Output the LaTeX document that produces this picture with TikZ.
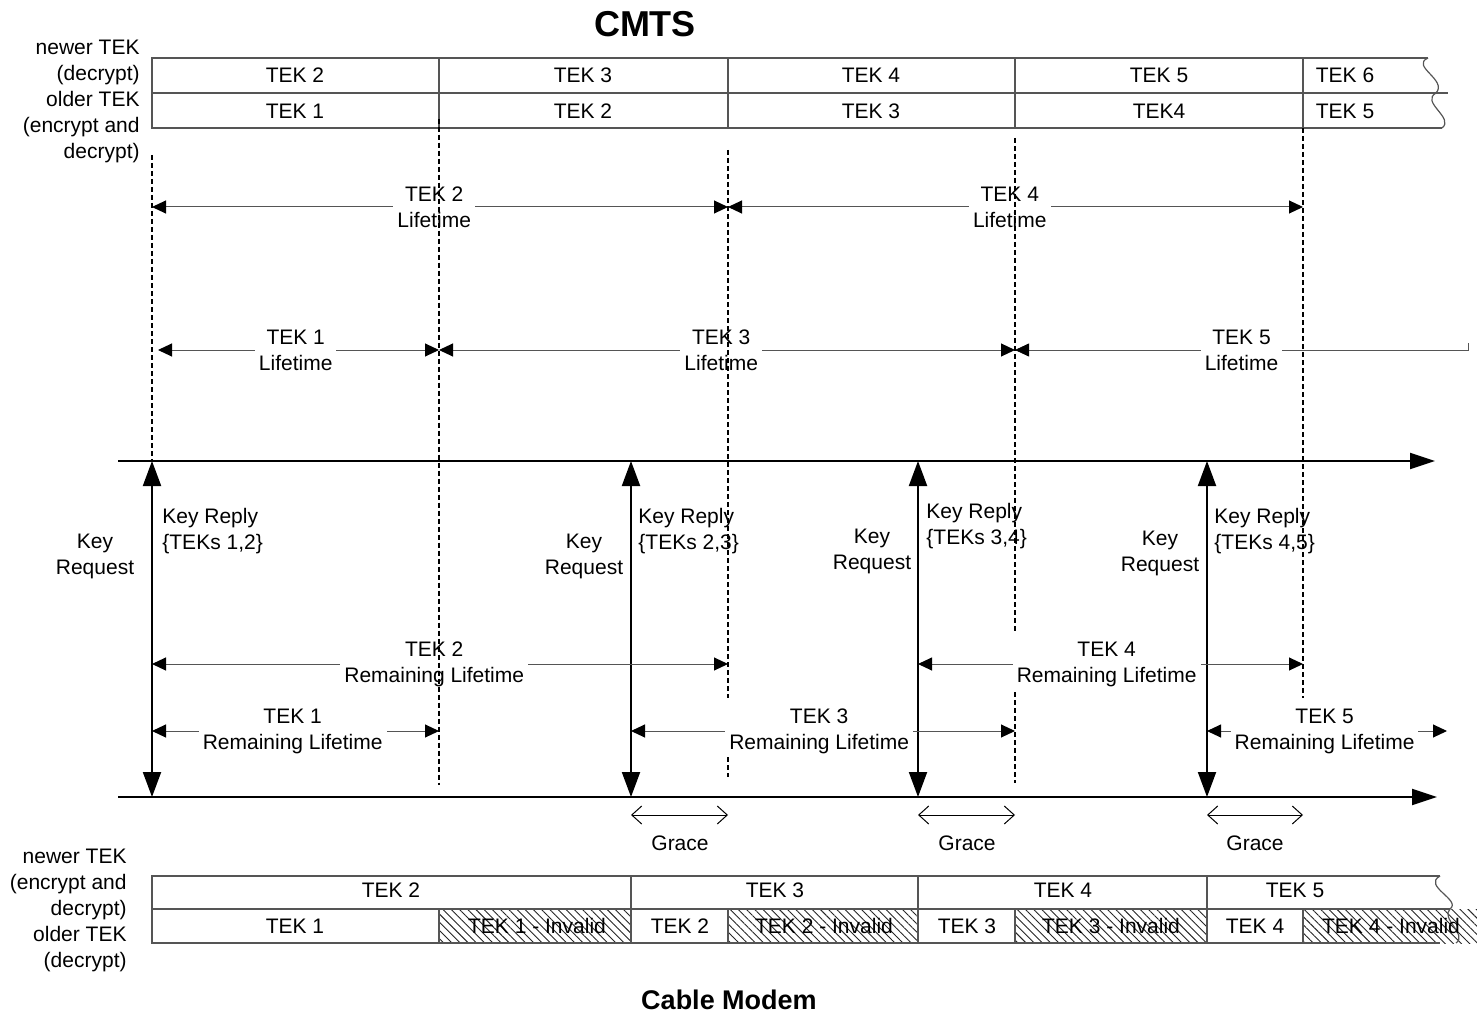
\documentclass[tikz,border=0pt]{standalone}
\usepackage{fontspec}
\setmainfont{Liberation Sans}
\usetikzlibrary{arrows.meta,patterns.meta}
\definecolor{linegray}{RGB}{85,85,85}

\begin{document}
\begin{tikzpicture}[x=0.5pt,y=-0.5pt,
  txt/.style={font=\fontsize{10.5}{13}\selectfont,align=center,inner sep=0pt},
  lbl/.style={txt,fill=white,inner sep=2pt,pos=0.49},
  boxline/.style={draw=linegray,line width=0.6pt},
  span/.style={draw=linegray,line width=0.5pt,{Triangle[black,length=7pt,width=6.5pt]}-{Triangle[black,length=7pt,width=6.5pt]}},
  guide/.style={line width=0.8pt,dash pattern=on 2.5pt off 1.5pt},
  timeaxis/.style={line width=1pt,-{Triangle[length=12.5pt,width=8pt]}},
  keyarr/.style={line width=1pt,{Triangle[length=12.5pt,width=9pt]}-{Triangle[length=12.5pt,width=9pt]}},
  grace/.style={line width=0.5pt,{Straight Barb[length=5pt,width=9pt]}-{Straight Barb[length=5pt,width=9pt]}},
  hatch/.style={pattern={Lines[angle=-45,distance=2.9pt,line width=0.45pt]},pattern color=black!85}]
\useasboundingbox (0,0) rectangle (1477,1016);

% time marks and rows
\coordinate (t0) at (152,0);
\coordinate (t1) at (439,0);
\coordinate (t2) at (728,0);
\coordinate (t3) at (1015,0);
\coordinate (t4) at (1303,0);
\coordinate (k2) at (631,0);
\coordinate (k3) at (918,0);
\coordinate (k4) at (1207,0);
\coordinate (r1) at (0,207);
\coordinate (r2) at (0,350);
\coordinate (r3) at (0,664);
\coordinate (r4) at (0,731);
\coordinate (gr) at (0,815);

\node[font=\bfseries\fontsize{18}{20}\selectfont] (cmts) at (645,24) {CMTS};
\node[font=\bfseries\fontsize{13.5}{16}\selectfont] (cm) at (729,1000) {Cable Modem};

% CMTS key table
\draw[boxline] (1428,58) -- (152,58) -- (152,128) -- (1442,128);
\draw[boxline] (152,93) -- (1448,93);
\draw[boxline,line width=1pt] (1248,93) -- (1303,93);
\foreach \x in {439,728,1015,1303}
  \draw[boxline] (\x,58) -- (\x,128);
\draw[boxline] (1428,58) .. controls (1410,66) and (1448,80) .. (1436,93)
  .. controls (1420,102) and (1455,118) .. (1442,128);
\foreach \x/\t [count=\i] in {295/TEK 2,583/TEK 3,871/TEK 4,1159/TEK 5,1345/TEK 6}
  \node[txt] (cnew\i) at (\x,75) {\t};
\foreach \x/\t [count=\i] in {295/TEK 1,583/TEK 2,871/TEK 3,1159/TEK4,1345/TEK 5}
  \node[txt] (cold\i) at (\x,111) {\t};
\node[txt,align=right,anchor=east] (cmtskeys) at (140,101)
  {newer TEK\\(decrypt)\\older TEK\\(encrypt and\\decrypt)};

% lifetimes
\draw[span] (t0 |- r1) -- node[lbl] (life2) {TEK 2\\Lifetime} (t2 |- r1);
\draw[span] (t2 |- r1) -- node[lbl] (life4) {TEK 4\\Lifetime} (t4 |- r1);
\draw[span] (158,350) -- node[lbl] (life1) {TEK 1\\Lifetime} (t1 |- r2);
\draw[span] (t1 |- r2) -- node[lbl] (life3) {TEK 3\\Lifetime} (t3 |- r2);
\draw[span,-] (t3 |- r2) -- node[lbl,pos=0.5] (life5) {TEK 5\\Lifetime} (1468,350) -- (1468,343);
\draw[black,{Triangle[length=7pt,width=6.5pt]}-] (t3 |- r2) -- +(8,0);

% time lines
\coordinate (cmtsL) at (118,461);
\coordinate (cmtsR) at (1435,461);
\coordinate (cmL) at (118,797);
\coordinate (cmR) at (1437,797);
\draw[timeaxis] (cmtsL) -- (cmtsR);
\draw[timeaxis] (cmL) -- (cmR);

% key exchanges
\draw[keyarr] (t0 |- cmL) -- (t0 |- cmtsL);
\draw[keyarr] (k2 |- cmL) -- (k2 |- cmtsL);
\draw[keyarr] (k3 |- cmL) -- (k3 |- cmtsL);
\draw[keyarr] (k4 |- cmL) -- (k4 |- cmtsL);
\node[txt] (req1) at (95,556) {Key\\Request};
\node[txt] (req2) at (584,556) {Key\\Request};
\node[txt] (req3) at (872,551) {Key\\Request};
\node[txt] (req4) at (1160,553) {Key\\Request};
\node[txt,align=left,anchor=west] (rep1) at (162,531) {Key Reply\\\{TEKs 1,2\}};
\node[txt,align=left,anchor=west] (rep2) at (638,531) {Key Reply\\\{TEKs 2,3\}};
\node[txt,align=left,anchor=west] (rep3) at (926,526) {Key Reply\\\{TEKs 3,4\}};
\node[txt,align=left,anchor=west] (rep4) at (1214,531) {Key Reply\\\{TEKs 4,5\}};

% remaining lifetimes
\draw[span] (t0 |- r3) -- node[lbl] (rem2) {TEK 2\\Remaining Lifetime} (t2 |- r3);
\draw[span] (t0 |- r4) -- node[lbl] (rem1) {TEK 1\\Remaining Lifetime} (t1 |- r4);
\draw[span] (k2 |- r4) -- node[lbl] (rem3) {TEK 3\\Remaining Lifetime} (t3 |- r4);
\draw[span] (k3 |- r3) -- node[lbl] (rem4) {TEK 4\\Remaining Lifetime} (t4 |- r3);
\draw[span] (k4 |- r4) -- node[lbl] (rem5) {TEK 5\\Remaining Lifetime} (1447,731);

% key lifetime boundaries
\draw[guide] (152,155) -- (t0 |- cmtsL);
\draw[guide] (t1 |- cold1.south) -- (439,785);
\draw[guide] (728,150) -- (728,698);
\draw[guide] (728,757) -- (728,777);
\draw[guide] (1015,138) -- (1015,633);
\draw[guide] (1015,692) -- (1015,783);
\draw[guide] (1303,128) -- (1303,698);

% grace periods
\draw[grace] (k2 |- gr) -- (t2 |- gr);
\draw[grace] (k3 |- gr) -- (t3 |- gr);
\draw[grace] (k4 |- gr) -- (t4 |- gr);
\node[txt] (grace2) at (680,843) {Grace};
\node[txt] (grace3) at (967,843) {Grace};
\node[txt] (grace4) at (1255,843) {Grace};

% cable modem key table
\fill[hatch] (439,909) rectangle (631,943);
\fill[hatch] (728,909) rectangle (918,943);
\fill[hatch] (1015,909) rectangle (1207,943);
\fill[hatch] (1303,909) rectangle (1477,943);
\draw[boxline] (1440,876) -- (152,876) -- (152,943) -- (1440,943);
\draw[boxline] (152,909) -- (1450,909);
\foreach \x in {631,918,1207}
  \draw[boxline] (\x,876) -- (\x,909);
\foreach \x in {439,631,728,918,1015,1207,1303}
  \draw[boxline] (\x,909) -- (\x,943);
\draw[boxline] (1440,876) .. controls (1422,886) and (1462,900) .. (1450,909)
  .. controls (1440,918) and (1468,935) .. (1456,943);
\foreach \x/\t [count=\i] in {391/TEK 2,775/TEK 3,1063/TEK 4,1295/TEK 5}
  \node[txt] (mnew\i) at (\x,890) {\t};
\foreach \x/\t [count=\i] in {295/TEK 1,537/TEK 1 - Invalid,680/TEK 2,824/TEK 2 - Invalid,967/TEK 3,1111/TEK 3 - Invalid,1255/TEK 4,1391/TEK 4 - Invalid}
  \node[txt] (mold\i) at (\x,926) {\t};
\node[txt,align=right,anchor=east] (cmkeys) at (127,910)
  {newer TEK\\(encrypt and\\decrypt)\\older TEK\\(decrypt)};
\end{tikzpicture}
\end{document}
